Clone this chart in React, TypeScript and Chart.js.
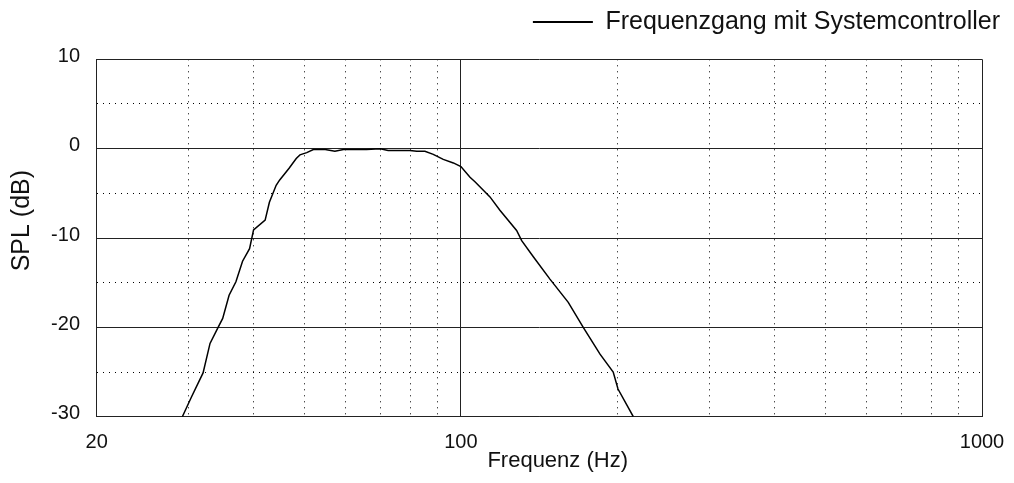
import React, { useEffect, useRef } from "react";
import { Chart, registerables } from "chart.js";

Chart.register(...registerables);

const freqHz = [29.2, 30.4, 32.0, 33.0, 34.2, 34.9, 35.9, 37.0, 38.1, 39.3, 40.0, 42.1, 42.9, 44.2, 44.9, 46.8, 48.3, 49.1, 50.6, 52.1, 54.9, 57.3, 59.5, 65.9, 70.0, 72.5, 79.8, 82.3, 85.3, 88.5, 92.5, 96.7, 100, 104.1, 106.4, 113.7, 118.8, 127.9, 130.8, 137.7, 148.2, 160.7, 171.7, 184.9, 196, 200.2, 214.2];
const splDb = [-30, -27.8, -25.1, -21.8, -20.0, -19.0, -16.4, -14.9, -12.6, -11.2, -9.1, -8.0, -6.0, -4.1, -3.5, -2.2, -1.1, -0.7, -0.45, -0.1, -0.1, -0.3, -0.1, -0.1, 0, -0.2, -0.2, -0.3, -0.3, -0.64, -1.2, -1.6, -2.0, -3.2, -3.7, -5.4, -6.9, -9.15, -10.3, -12.1, -14.6, -17.2, -20.0, -23.0, -25.0, -26.9, -30];

const xTicks = [20, 30, 40, 50, 60, 70, 80, 90, 100, 200, 300, 400, 500, 600, 700, 800, 900, 1000];
const xLabels = [20, 100, 1000];
const xSolid = [20, 100, 1000];

const seriesLabel = "Frequenzgang mit Systemcontroller";
const xTitle = "Frequenz (Hz)";
const yTitle = "SPL (dB)";

const FONT = "'Liberation Sans', Arial, sans-serif";
const TEXT = "#111";
const SOLID = "#222";
const DOT = "#000";

export default function App() {
  const ref = useRef<HTMLCanvasElement | null>(null);

  useEffect(() => {
    if (!ref.current) return;
    const chart = new Chart(ref.current, {
      type: "line",
      data: {
        datasets: [
          {
            label: seriesLabel,
            data: freqHz.map((f, i) => ({ x: f, y: splDb[i] })),
            borderColor: "#000",
            backgroundColor: "#000",
            borderWidth: 1.5,
            pointRadius: 0,
            tension: 0,
            xAxisID: "x",
            yAxisID: "y",
          },
        ],
      },
      options: {
        animation: false,
        responsive: false,
        layout: { padding: { left: 0, right: 4.5, top: 0, bottom: 0 } },
        plugins: {
          tooltip: { enabled: false },
          legend: {
            display: true,
            position: "top",
            align: "end",
            labels: {
              boxWidth: 60,
              boxHeight: 2,
              padding: 9.5,
              color: TEXT,
              font: { family: FONT, size: 25 },
              generateLabels: () => [
                {
                  text: seriesLabel,
                  fillStyle: "#000",
                  strokeStyle: "#000",
                  lineWidth: 0,
                  fontColor: TEXT,
                  datasetIndex: 0,
                  hidden: false,
                },
              ],
            },
          },
        },
        scales: {
          x: {
            type: "logarithmic",
            position: "bottom",
            min: 20,
            max: 1000,
            afterBuildTicks: (s: any) => {
              s.ticks = xTicks.map((v) => ({ value: v }));
            },
            afterFit: (s: any) => {
              s.height = 66.3;
              s.paddingLeft = 0;
              s.paddingRight = 0;
            },
            ticks: {
              autoSkip: false,
              maxRotation: 0,
              minRotation: 0,
              padding: 13.8,
              color: TEXT,
              font: { family: FONT, size: 20 },
              callback: (v: any) => (xLabels.includes(Number(v)) ? String(v) : ""),
            },
            grid: {
              display: true,
              drawTicks: false,
              lineWidth: 1,
              color: (c: any) => (c.tick && xSolid.includes(c.tick.value) ? SOLID : DOT),
            },
            border: {
              display: true,
              color: SOLID,
              width: 1,
              dash: (c: any) => (c.tick && !xSolid.includes(c.tick.value) ? [1, 5] : []),
            },
            title: {
              display: true,
              text: "      " + xTitle,
              color: TEXT,
              font: { family: FONT, size: 22 },
              padding: { top: 0, bottom: 8.8 },
            },
          },
          y: {
            type: "linear",
            position: "left",
            min: -30,
            max: 10,
            afterFit: (s: any) => {
              s.width = 96.7;
            },
            ticks: {
              stepSize: 5,
              padding: 16.7,
              labelOffset: -3,
              color: TEXT,
              font: { family: FONT, size: 20 },
              callback: (v: any) => (Number(v) % 10 === 0 ? String(v) : ""),
            },
            grid: {
              display: true,
              drawTicks: false,
              lineWidth: 1,
              color: (c: any) => (c.tick && c.tick.value % 10 === 0 ? SOLID : DOT),
            },
            border: {
              display: true,
              color: SOLID,
              width: 1,
              dash: (c: any) => (c.tick && c.tick.value % 10 !== 0 ? [1, 5] : []),
            },
            title: {
              display: true,
              text: "     " + yTitle,
              color: TEXT,
              font: { family: FONT, size: 25 },
              padding: { top: 7.5, bottom: 0 },
            },
          },
          topSpacer: {
            type: "linear",
            position: "top",
            display: true,
            afterFit: (s: any) => {
              s.height = 14.8;
            },
            ticks: { display: false },
            grid: { display: false, drawTicks: false },
            border: { display: false },
          },
          rightSpacer: {
            type: "linear",
            position: "right",
            display: true,
            afterFit: (s: any) => {
              s.width = 27.5;
            },
            ticks: { display: false },
            grid: { display: false, drawTicks: false },
            border: { display: false },
          },
        },
      },
    } as any);
    return () => chart.destroy();
  }, []);

  return (
    <div style={{ position: "fixed", left: 0, top: 0, width: 1014, height: 483, background: "#fff" }}>
      <canvas ref={ref} width={1014} height={483} style={{ display: "block", width: 1014, height: 483 }} />
    </div>
  );
}
